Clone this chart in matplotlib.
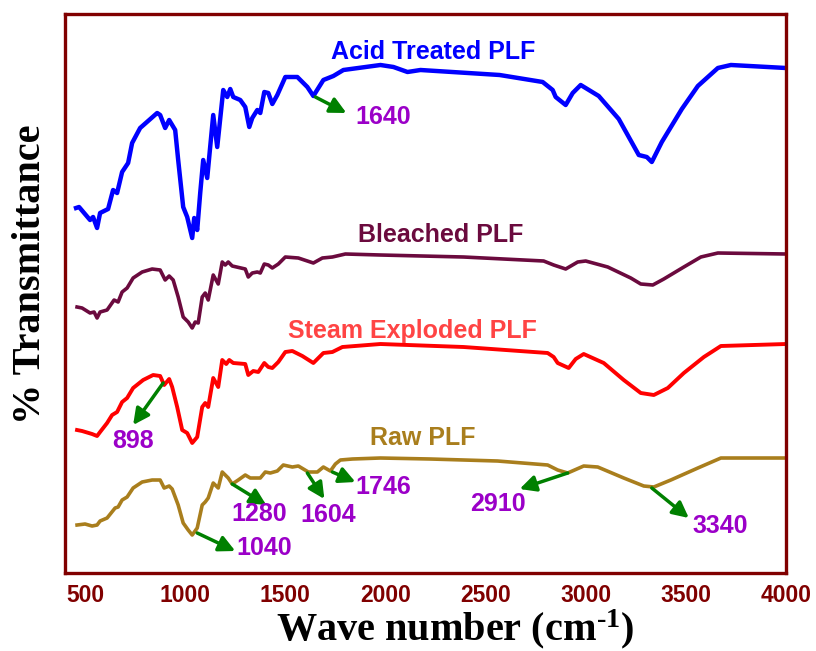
import matplotlib
matplotlib.use('Agg')
import matplotlib.pyplot as plt

# FTIR spectra, values (arbitrary offset transmittance units)
acid_wn = [455, 470, 525, 540, 560, 575, 615, 640, 660, 685, 715, 735, 775, 860, 875, 900, 920, 950,
           965, 990, 1010, 1035, 1045, 1060, 1075, 1090, 1110, 1140, 1160, 1190, 1210, 1225, 1240, 1275,
           1300, 1320, 1335, 1360, 1375, 1395, 1415, 1435, 1460, 1500, 1560, 1610, 1640, 1690, 1740, 1790,
           1975, 2040, 2110, 2175, 2570, 2785, 2835, 2850, 2900, 2935, 2975, 3065, 3165, 3265, 3305, 3330,
           3380, 3480, 3560, 3660, 3725, 4000]
acid_t = [365, 366, 353, 356, 345, 360, 364, 383, 380, 401, 410, 430, 445, 460, 458, 445, 453, 443,
          413, 366, 356, 335, 355, 343, 380, 413, 395, 458, 426, 483, 476, 484, 476, 473,
          466, 446, 455, 463, 460, 481, 480, 469, 478, 496, 496, 486, 477, 493, 497, 503,
          508, 506, 501, 503, 498, 491, 483, 476, 468, 480, 488, 477, 454, 418, 416, 411,
          431, 464, 487, 505, 508, 505]

bleach_wn = [460, 485, 525, 545, 560, 575, 610, 645, 665, 685, 710, 740, 785, 835, 875, 900, 920, 940,
             965, 990, 1015, 1035, 1050, 1065, 1085, 1100, 1115, 1140, 1165, 1185, 1200, 1215, 1235,
             1300, 1315, 1335, 1360, 1375, 1395, 1415, 1435, 1465, 1500, 1565, 1640, 1685, 1735, 1800,
             1975, 2390, 2790, 2840, 2900, 2960, 3000, 3110, 3225, 3275, 3335, 3390, 3490, 3575, 3660, 4000]
bleach_t = [266, 265, 260, 261, 255, 261, 263, 273, 271, 281, 285, 295, 301, 304, 303, 293, 297, 293,
            276, 256, 251, 245, 251, 250, 276, 280, 273, 298, 289, 311, 308, 311, 307,
            304, 296, 300, 301, 300, 309, 308, 305, 309, 316, 315, 310, 315, 316, 319,
            318, 316, 312, 308, 304, 311, 312, 306, 295, 289, 288, 294, 306, 316, 320, 319]

steam_wn = [460, 485, 535, 560, 575, 610, 635, 660, 685, 710, 740, 790, 840, 875, 895, 920, 935, 960,
            985, 1010, 1035, 1060, 1085, 1100, 1115, 1140, 1165, 1185, 1205, 1220, 1240, 1300, 1315,
            1340, 1365, 1395, 1415, 1435, 1465, 1500, 1535, 1585, 1640, 1690, 1735, 1785, 1975, 2390,
            2810, 2840, 2860, 2915, 2950, 2990, 3090, 3190, 3275, 3340, 3410, 3490, 3590, 3675, 4000]
steam_t = [143, 142, 139, 137, 141, 150, 158, 161, 171, 175, 185, 193, 198, 197, 188, 194, 186, 166,
           143, 140, 130, 136, 166, 170, 166, 195, 186, 213, 209, 213, 210, 209, 198,
           202, 201, 210, 206, 205, 211, 221, 222, 217, 210, 220, 221, 226, 229, 226,
           220, 216, 210, 205, 214, 219, 210, 193, 180, 178, 185, 200, 216, 227, 229]

raw_wn = [460, 500, 535, 560, 575, 610, 650, 665, 685, 710, 740, 785, 835, 875, 895, 920, 935, 965,
          990, 1015, 1035, 1060, 1085, 1100, 1115, 1140, 1165, 1185, 1215, 1235, 1265, 1300, 1325,
          1360, 1375, 1400, 1425, 1460, 1490, 1535, 1565, 1615, 1660, 1690, 1725, 1750, 1775, 1835,
          1975, 2225, 2560, 2810, 2860, 2910, 2990, 3060, 3190, 3290, 3340, 3425, 3560, 3675, 4000]
raw_t = [48, 49, 47, 48, 52, 55, 65, 66, 73, 76, 85, 91, 93, 93, 85, 87, 84, 68,
         50, 43, 38, 45, 68, 71, 75, 90, 85, 101, 95, 89, 93, 98, 95,
         95, 95, 101, 100, 102, 108, 106, 107, 101, 101, 106, 102, 109, 113, 114,
         115, 114, 112, 108, 103, 100, 107, 106, 95, 87, 86, 93, 105, 115, 115]

# peak annotations: label, arrow tail (on curve), arrow tip, label position
peak_labels = ['1640', '898', '1040', '1280', '1604', '1746', '2910', '3340']
peak_tail = [(1650, 476), (890, 190), (1060, 40), (1235, 89), (1610, 100), (1735, 101), (2910, 100), (3330, 85)]
peak_tip = [(1805, 460), (740, 148), (1250, 22), (1405, 68), (1695, 74), (1850, 91), (2670, 84), (3515, 55)]
peak_text = [(1990, 456), (740, 132), (1395, 25), (1370, 59), (1715, 58), (1990, 86), (2560, 69), (3670, 47)]

plt.rcParams['mathtext.fontset'] = 'custom'
plt.rcParams['mathtext.rm'] = 'Liberation Serif:bold'
plt.rcParams['mathtext.it'] = 'Liberation Serif:bold'
plt.rcParams['mathtext.bf'] = 'Liberation Serif:bold'

fig = plt.figure(figsize=(8.16, 6.51), dpi=100)
ax = fig.add_axes([0.0797, 0.1198, 0.8835, 0.8587])

ax.plot(acid_wn, acid_t, color='#0000FF', lw=3.2)
ax.plot(bleach_wn, bleach_t, color='#6B0A3E', lw=2.6)
ax.plot(steam_wn, steam_t, color='#FF0000', lw=2.8)
ax.plot(raw_wn, raw_t, color='#A97E1D', lw=2.6)

lab_font = dict(fontsize=18, fontweight='bold', family='Liberation Sans', ha='center', va='center')
ax.text(2240, 521, 'Acid Treated PLF', color='#0000FF', **lab_font)
ax.text(2275, 338, 'Bleached PLF', color='#6B0A3E', **lab_font)
ax.text(2135, 242, 'Steam Exploded PLF', color='#FF4444', **lab_font)
ax.text(2185, 135, 'Raw PLF', color='#A97E1D', **lab_font)

for lab, tail, tip, pos in zip(peak_labels, peak_tail, peak_tip, peak_text):
    ax.annotate('', xy=tip, xytext=tail,
                arrowprops=dict(arrowstyle='-|>', color='#008000', lw=2.5, mutation_scale=24,
                                shrinkA=0, shrinkB=0))
    ax.text(pos[0], pos[1], lab, color='#9B00C8', **lab_font)

ax.set_xlim(400, 4000)
ax.set_ylim(0, 559)
ax.set_yticks([])
ax.set_xticks([500, 1000, 1500, 2000, 2500, 3000, 3500, 4000])
ax.tick_params(axis='x', length=0, pad=8, labelcolor='#800000')
for t in ax.get_xticklabels():
    t.set_fontfamily('Liberation Sans')
    t.set_fontweight('bold')
    t.set_fontsize(16.5)
for s in ax.spines.values():
    s.set_color('#800000')
    s.set_linewidth(2.4)

fig.text(0.037, 0.578, '% Transmittance', rotation=90, ha='center', va='center',
         fontsize=29, fontweight='bold', family='Liberation Serif')
fig.text(0.558, 0.033, r'Wave number (cm$^{\text{-1}}$)', ha='center', va='center',
         fontsize=29, fontweight='bold', family='Liberation Serif')

fig.savefig('out.png', dpi=100)
